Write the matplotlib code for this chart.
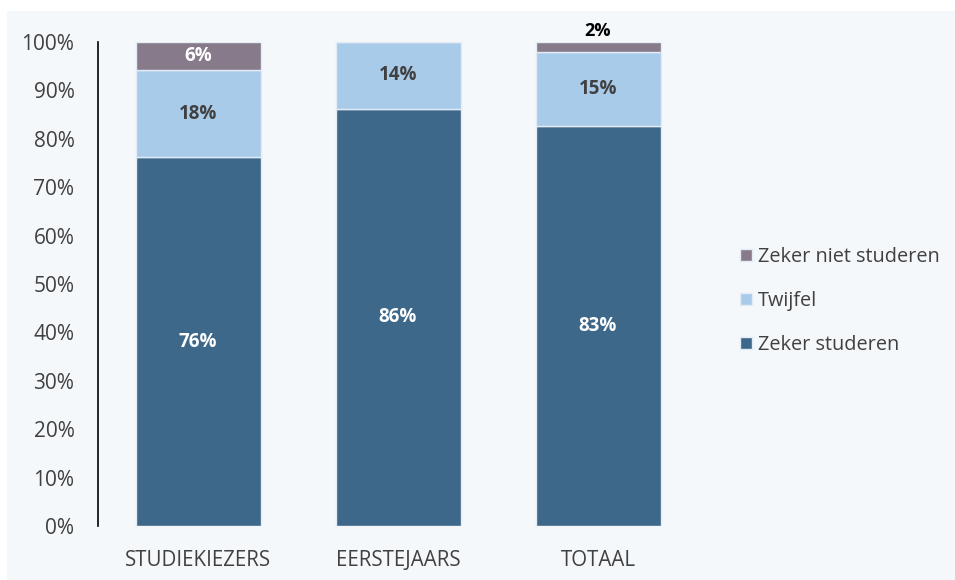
import matplotlib.pyplot as plt
from matplotlib.patches import Rectangle

plt.rcParams['font.family'] = ['Open Sans', 'DejaVu Sans']

# Data
categories = ['STUDIEKIEZERS', 'EERSTEJAARS', 'TOTAAL']
zeker_studeren = [76.2, 86.2, 82.6]
twijfel = [18.0, 13.8, 15.3]
zeker_niet = [5.8, 0.0, 2.1]
series_names = ['Zeker studeren', 'Twijfel', 'Zeker niet studeren']

colors = ['#3d6889', '#a9cbea', '#877a8b']
label_colors = ['white', '#404040', 'white']

fig = plt.figure(figsize=(9.55, 5.8), dpi=100)
fig.patch.set_facecolor('white')
# light panel behind the chart
fig.patches.append(Rectangle((7 / 955, 0), 1, 1 - 11 / 580, transform=fig.transFigure,
                             facecolor='#f5f8fb', edgecolor='none', zorder=-10))

ax = fig.add_axes([98 / 955, 1 - 526 / 580, 600 / 955, 484 / 580])
ax.set_facecolor('none')

x = range(len(categories))
bottom = [0, 0, 0]
bars = []
for vals, col, name, lc in zip([zeker_studeren, twijfel, zeker_niet], colors, series_names, label_colors):
    b = ax.bar(x, vals, width=0.625, bottom=bottom, color=col, edgecolor='#e3ecf5',
               linewidth=1, label=name)
    bars.append(b)
    for i, v in enumerate(vals):
        if v <= 0:
            continue
        if v < 4:
            ax.text(i, bottom[i] + v + 0.4, f'{v:.0f}%', ha='center', va='bottom',
                    fontsize=13, fontweight='bold', color='black')
        else:
            ax.text(i, bottom[i] + v / 2, f'{v:.0f}%', ha='center', va='center',
                    fontsize=13.5, fontweight='bold', color=lc)
    bottom = [bt + v for bt, v in zip(bottom, vals)]

ax.set_xlim(-0.5, 2.5)
ax.set_ylim(0, 100)
ax.set_yticks(range(0, 101, 10))
ax.set_yticklabels([f'{t}%' for t in range(0, 101, 10)])
ax.set_xticks(list(x))
ax.set_xticklabels(categories)
ax.tick_params(axis='y', length=0, pad=17, labelsize=15, labelcolor='#404040')
ax.tick_params(axis='x', length=0, pad=17, labelsize=14.8, labelcolor='#404040')
for s in ['top', 'right', 'bottom']:
    ax.spines[s].set_visible(False)
ax.spines['left'].set_color('black')
ax.spines['left'].set_linewidth(1.2)

handles = [bars[2], bars[1], bars[0]]
leg = fig.legend(handles, [series_names[2], series_names[1], series_names[0]],
                 loc='center left', bbox_to_anchor=(722 / 955, 1 - 301 / 580),
                 frameon=False, fontsize=14.3, handlelength=0.6, handleheight=0.6,
                 handletextpad=0.3, labelspacing=1.2, labelcolor='#404040')

plt.savefig('out.png', dpi=100, facecolor=fig.get_facecolor())
